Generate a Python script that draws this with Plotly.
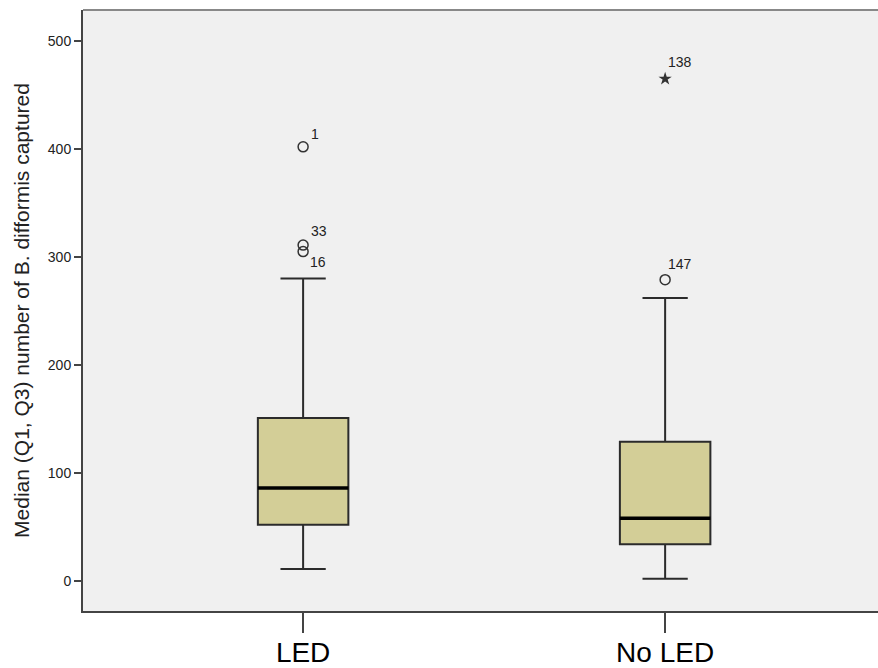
import plotly.graph_objects as go

categories = ["LED", "No LED"]
xpos = [0, 1]
q1 = [52, 34]
median = [86, 58]
q3 = [151, 129]
lower_whisker = [11, 2]
upper_whisker = [280, 262]

# outliers (circle)
out_x = [0, 0, 0, 1]
out_y = [402, 311, 305, 279]
out_labels = ["1", "33", "16", "147"]
# extreme (star)
ext_x = [1]
ext_y = [465]
ext_labels = ["138"]

fill = "#d3ce97"
edge = "#2b2b2b"
box_width = 0.25
lab_font = dict(size=14, color="#222", family="Liberation Sans, Arial")
# label placement styles (pixel offsets), per label
label_style = {
    "1": dict(xshift=6, yshift=3, yanchor="bottom"),
    "33": dict(xshift=6, yshift=4, yanchor="bottom"),
    "16": dict(xshift=5, yshift=0, yanchor="top"),
    "147": dict(xshift=1, yshift=6, yanchor="bottom"),
    "138": dict(xshift=1, yshift=7, yanchor="bottom"),
}

fig = go.Figure()
fig.add_trace(go.Box(
    x=xpos, q1=q1, median=median, q3=q3,
    lowerfence=lower_whisker, upperfence=upper_whisker,
    fillcolor=fill, line=dict(color=edge, width=2),
    width=box_width, whiskerwidth=0.5, boxpoints=False,
    showlegend=False, hoverinfo="skip",
))
# thick median lines
for xi, m in zip(xpos, median):
    fig.add_trace(go.Scatter(
        x=[xi - box_width / 2, xi + box_width / 2], y=[m, m],
        mode="lines", line=dict(color="black", width=3.5),
        showlegend=False, hoverinfo="skip",
    ))

fig.add_trace(go.Scatter(
    x=out_x, y=out_y, mode="markers",
    marker=dict(symbol="circle-open", size=10, color="#333", line=dict(width=1.5)),
    showlegend=False,
))
fig.add_trace(go.Scatter(
    x=ext_x, y=ext_y, mode="markers",
    marker=dict(symbol="star", size=10, color="#333"),
    showlegend=False,
))
for xs, ys, ls in ((out_x, out_y, out_labels), (ext_x, ext_y, ext_labels)):
    for x, y, l in zip(xs, ys, ls):
        fig.add_annotation(x=x, y=y, text=l, showarrow=False, xanchor="left",
                           font=lab_font, **label_style[l])

fig.update_layout(
    width=878, height=668,
    margin=dict(l=83, r=0, t=10, b=57, autoexpand=False),
    paper_bgcolor="white", plot_bgcolor="#f0f0f0",
    font=dict(family="Liberation Sans, Arial", color="#222"),
    showlegend=False,
)
fig.update_xaxes(
    range=[-0.608, 1.588], tickvals=xpos, ticktext=categories,
    tickfont=dict(size=28, color="black"), automargin=False,
    ticks="outside", ticklen=20, tickwidth=1.5, tickcolor="#444",
    ticklabelstandoff=-5,
    showline=True, linecolor="#444", linewidth=2, mirror=False,
    showgrid=False, zeroline=False,
)
fig.update_yaxes(
    range=[-27.8, 528.7], tickvals=[0, 100, 200, 300, 400, 500],
    tickfont=dict(size=14, color="#222"), automargin=False,
    ticks="outside", ticklen=7, tickwidth=1.5, tickcolor="#444",
    showline=True, linecolor="#444", linewidth=2,
    showgrid=False, zeroline=False,
    title=dict(text="Median (Q1, Q3) number of B. difformis captured",
               font=dict(size=21, color="#222"), standoff=12),
)
fig.add_shape(type="line", xref="paper", yref="paper", x0=0, x1=1, y0=1, y1=1,
              line=dict(color="#888", width=2))
fig.write_html(
    "out.html",
    config={"displayModeBar": False},
    post_script="document.body.style.margin='0';"
                "document.documentElement.style.overflow='hidden';",
)
